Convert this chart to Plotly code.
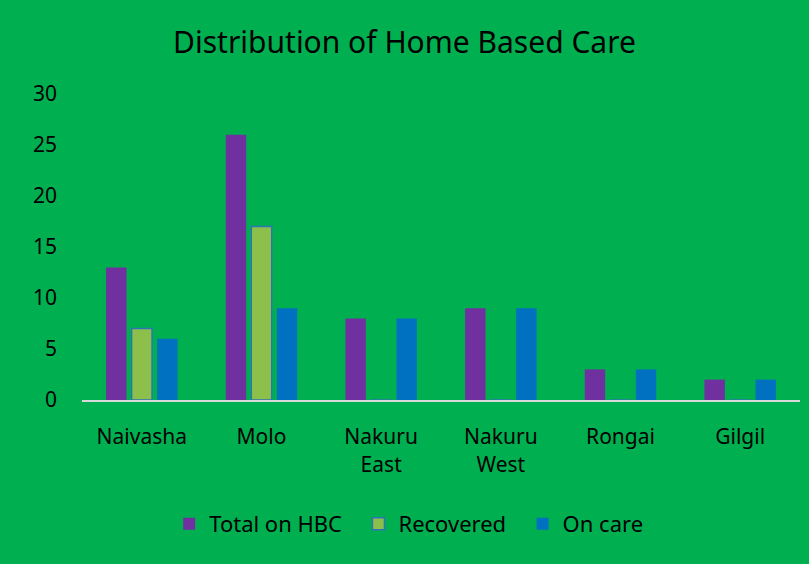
import plotly.graph_objects as go

# Données
districts = ["Naivasha", "Molo", "Nakuru<br>East", "Nakuru<br>West", "Rongai", "Gilgil"]
total_hbc = [13, 26, 8, 9, 3, 2]
recovered = [7, 17, 0, 0, 0, 0]
on_care = [6, 9, 8, 9, 3, 2]

BG = "#00B050"
FONT = "Noto Sans"

fig = go.Figure()
fig.add_trace(go.Bar(name="Total on HBC  ", x=districts, y=total_hbc,
                     marker=dict(color="#7030A0", line=dict(width=0))))
fig.add_trace(go.Bar(name="Recovered  ", x=districts, y=recovered,
                     marker=dict(color="#8DC04A", line=dict(color="#2E75B6", width=1.5))))
fig.add_trace(go.Bar(name="On care", x=districts, y=on_care,
                     marker=dict(color="#0070C0", line=dict(width=0))))

fig.update_layout(
    width=809, height=564,
    paper_bgcolor=BG, plot_bgcolor=BG,
    font=dict(family=FONT, size=21, color="black"),
    title=dict(text="Distribution of Home Based Care", x=0.5, xanchor="center",
               y=0.925, yanchor="middle", font=dict(size=30)),
    barmode="group", bargap=0.36, bargroupgap=0.2,
    margin=dict(l=82, r=9, t=94, b=164),
    showlegend=True,
    legend=dict(orientation="h", x=0.455, xanchor="center", y=-0.405, yanchor="middle",
                font=dict(size=22), itemwidth=30, traceorder="normal"),
)
fig.update_yaxes(range=[0, 30], dtick=5, showgrid=False, zeroline=False,
                 showline=False, ticks="", ticklabelstandoff=24)
fig.update_xaxes(showline=True, linecolor="#D9D9D9", linewidth=2, ticks="",
                 showgrid=False, ticklabelstandoff=17)

# pas de marge blanche autour du graphique, pas de barre d'outils
fig.write_html("out.html", config={"displayModeBar": False},
               post_script="document.body.style.margin='0';")
